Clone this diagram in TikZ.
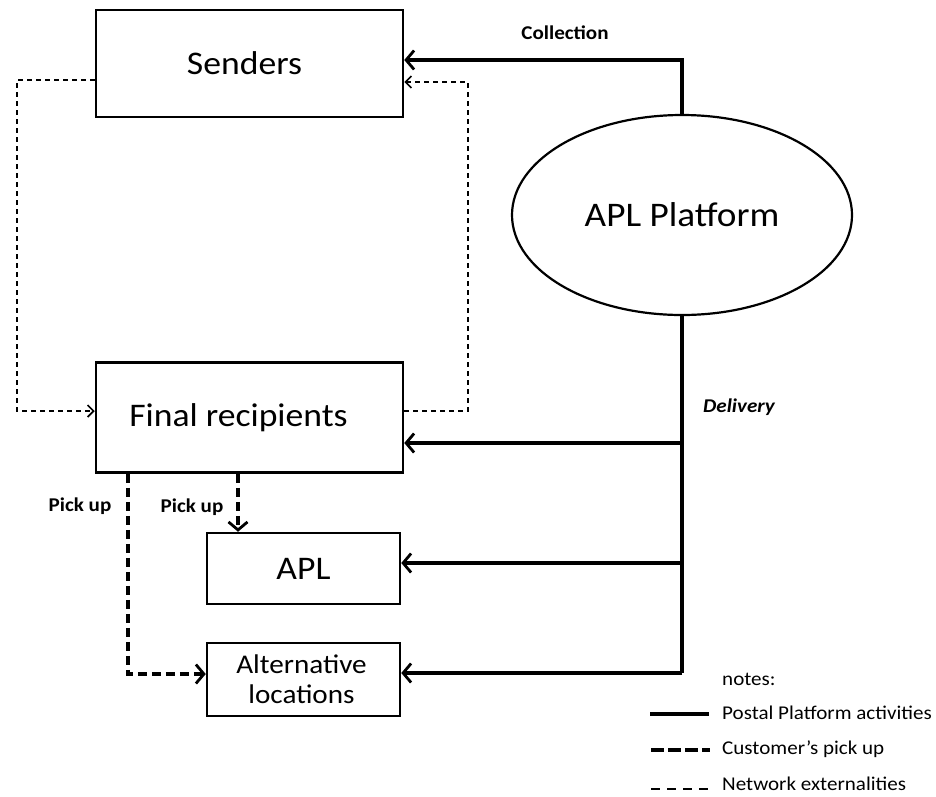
\documentclass[tikz,border=0pt]{standalone}
\usepackage{fontspec}
\setmainfont{Carlito}[FakeStretch=1.08]
\usetikzlibrary{arrows.meta,shapes.geometric}
\begin{document}
\begin{tikzpicture}[x=1pt,y=-1pt,
  box/.style={draw,line width=2.5pt,minimum width=307pt,inner sep=0pt},
  smallbox/.style={draw,line width=2.5pt,inner sep=0pt},
  solidline/.style={line width=3.5pt},
  pickline/.style={line width=3.5pt,dash pattern=on 9pt off 5pt},
  netline/.style={line width=1.4pt,dash pattern=on 5pt off 4pt},
  bigarrow/.style={-{Straight Barb[length=8pt,width=19pt,line width=2.8pt]}},
  thinarrow/.style={-{Straight Barb[length=6pt,width=12pt,line width=1.6pt]}},
  lbl/.style={font=\bfseries\fontsize{19.5}{22}\selectfont,inner sep=0pt},
  legtext/.style={font=\fontsize{19.5}{22}\selectfont,anchor=west,inner sep=0pt}]
\useasboundingbox (0,0) rectangle (936,796);
% boxes
\node[box,minimum height=107pt,font=\fontsize{33}{37}\selectfont] (send) at (249.5,63.5) {\hspace*{-10pt}Senders};
\node[box,minimum height=110pt,font=\fontsize{33}{37}\selectfont] (fr) at (249.5,417.5) {\hspace*{-22pt}\raisebox{4pt}{Final recipients}};
\node[smallbox,minimum width=193pt,minimum height=71pt,font=\fontsize{33}{37}\selectfont] (apl) at (303.5,568.5) {APL};
\node[smallbox,minimum width=193pt,minimum height=73pt,font=\fontsize{27}{30}\selectfont,align=center] (alt) at (303.5,679.5) {\hspace*{-4pt}Alternative\\\hspace*{-4pt}locations};
\node[ellipse,draw,line width=2.2pt,minimum width=340pt,minimum height=200pt,inner sep=0pt,font=\fontsize{34.5}{38}\selectfont] (plat) at (682,215) {APL Platform};
% coordinates
\coordinate (c1) at (682,60);
\coordinate (j1) at (682,443);
\coordinate (j2) at (682,563);
\coordinate (j3) at (682,673);
% collection
\draw[solidline,bigarrow] (plat.north) -- (c1) -- (send.east |- c1);
% delivery
\draw[solidline] (plat.south) -- (j3);
\draw[solidline,bigarrow] (j1) -- (fr.east |- j1);
\draw[solidline,bigarrow] (j2) -- (apl.east |- j2);
\draw[solidline,bigarrow] (j3) -- (alt.east |- j3);
% network externalities
\draw[netline,thinarrow] (send.west |- 0,80) -- (17,80) -- (17,411) -- (fr.west |- 0,411);
\draw[netline,thinarrow] (fr.east |- 0,411) -- (468,411) -- (468,82) -- (send.east |- 0,82);
% pick up
\draw[pickline,bigarrow] (fr.south -| 238,0) -- (apl.north -| 238,0);
\draw[pickline,bigarrow] (fr.south -| 128,0) -- (128,674) -- (alt.west |- 0,674);
% labels
\node[lbl] (lcol) at (565,33) {Collection};
\node[lbl,font=\bfseries\itshape\fontsize{19.5}{22}\selectfont] (ldel) at (739,407) {Delivery};
\node[lbl] (lp1) at (80,506) {Pick up};
\node[lbl] (lp2) at (192,507) {Pick up};
% legend
\node[legtext] (notes) at (722,679) {notes:};
\coordinate (a1) at (650,714); \coordinate (b1) at (709,714);
\draw[solidline] (a1) -- (b1);
\node[legtext] (t1) at (722,713) {Postal Platform activities};
\coordinate (a2) at (651,750); \coordinate (b2) at (710,750);
\draw[pickline,dash pattern=on 13pt off 4pt] (a2) -- (b2);
\node[legtext] (t2) at (722,749) {Customer’s pick up};
\coordinate (a3) at (651,789); \coordinate (b3) at (710,789);
\draw[netline,dash pattern=on 9pt off 7pt] (a3) -- (b3);
\node[legtext] (t3) at (722,784) {Network externalities};
\end{tikzpicture}
\end{document}
